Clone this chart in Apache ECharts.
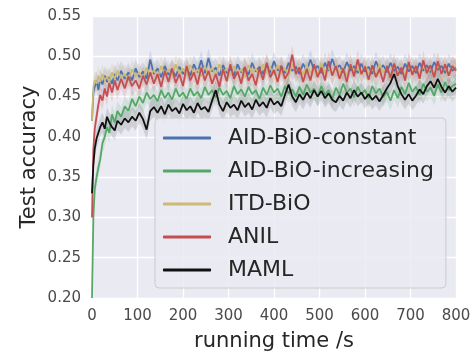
<!DOCTYPE html>
<html>
<head>
<meta charset="utf-8">
<script src="https://cdn.jsdelivr.net/npm/echarts@6/dist/echarts.min.js"></script>
<style>
html,body{margin:0;padding:0;background:#ffffff;}
#chart{width:474px;height:351px;}
</style>
</head>
<body>
<div id="chart"></div>
<script>
// running time (s)
const timeS = [0,3,6,10,14,18,23,28,33,38,44,50,56,64,72,80,88,96,104,112,120,128,136,144,152,160,168,176,184,192,200,208,216,224,232,240,248,256,264,272,280,288,296,304,312,320,328,336,344,352,360,368,376,384,392,400,408,416,424,432,440,448,456,464,472,480,488,496,504,512,520,528,536,544,552,560,568,576,584,592,600,608,616,624,632,640,648,656,664,672,680,688,696,704,712,720,728,736,744,752,760,768,776,784,792,800];

const aidConstant = [0.420,0.455,0.462,0.470,0.458,0.472,0.465,0.476,0.468,0.474,0.466,0.478,0.470,0.482,0.472,0.480,0.470,0.485,0.474,0.481,0.472,0.496,0.478,0.485,0.474,0.488,0.477,0.484,0.475,0.487,0.478,0.485,0.476,0.490,0.480,0.495,0.479,0.498,0.481,0.486,0.476,0.489,0.479,0.485,0.476,0.490,0.480,0.486,0.477,0.492,0.481,0.487,0.478,0.490,0.480,0.494,0.482,0.488,0.479,0.492,0.482,0.487,0.478,0.491,0.481,0.496,0.483,0.488,0.479,0.492,0.482,0.497,0.484,0.489,0.480,0.493,0.482,0.488,0.479,0.491,0.481,0.487,0.478,0.494,0.483,0.489,0.480,0.492,0.482,0.487,0.478,0.491,0.481,0.488,0.479,0.492,0.482,0.489,0.480,0.493,0.483,0.488,0.479,0.491,0.482,0.486];

const aidIncreasing = [0.200,0.300,0.335,0.350,0.362,0.372,0.392,0.400,0.412,0.405,0.428,0.418,0.432,0.425,0.438,0.432,0.447,0.438,0.450,0.442,0.455,0.447,0.452,0.444,0.458,0.448,0.455,0.446,0.460,0.450,0.455,0.447,0.460,0.451,0.456,0.448,0.462,0.452,0.458,0.449,0.461,0.452,0.457,0.448,0.463,0.453,0.459,0.450,0.462,0.453,0.458,0.447,0.461,0.452,0.464,0.455,0.460,0.450,0.463,0.454,0.459,0.450,0.462,0.452,0.465,0.455,0.460,0.450,0.463,0.452,0.458,0.447,0.461,0.452,0.466,0.455,0.460,0.449,0.462,0.453,0.458,0.448,0.463,0.454,0.460,0.449,0.456,0.445,0.458,0.448,0.462,0.453,0.467,0.456,0.462,0.452,0.466,0.456,0.461,0.451,0.465,0.455,0.468,0.458,0.463,0.466];

const itdBio = [0.420,0.462,0.470,0.466,0.476,0.468,0.478,0.470,0.475,0.468,0.480,0.472,0.482,0.474,0.478,0.470,0.484,0.475,0.480,0.472,0.486,0.476,0.483,0.474,0.488,0.477,0.484,0.475,0.490,0.479,0.485,0.476,0.489,0.478,0.484,0.475,0.488,0.477,0.486,0.476,0.490,0.479,0.485,0.476,0.488,0.478,0.484,0.475,0.489,0.479,0.485,0.476,0.490,0.480,0.486,0.477,0.489,0.479,0.485,0.476,0.490,0.480,0.486,0.477,0.489,0.479,0.485,0.476,0.491,0.480,0.486,0.477,0.489,0.479,0.485,0.476,0.490,0.480,0.486,0.477,0.489,0.479,0.485,0.476,0.490,0.480,0.486,0.477,0.489,0.479,0.485,0.476,0.490,0.480,0.486,0.477,0.489,0.479,0.485,0.476,0.490,0.480,0.486,0.477,0.489,0.482];

const anil = [0.300,0.385,0.410,0.425,0.440,0.452,0.445,0.460,0.450,0.467,0.455,0.470,0.458,0.472,0.460,0.475,0.463,0.470,0.460,0.476,0.465,0.480,0.466,0.478,0.462,0.482,0.468,0.485,0.467,0.478,0.463,0.488,0.470,0.480,0.465,0.486,0.470,0.482,0.466,0.478,0.462,0.484,0.469,0.490,0.472,0.481,0.466,0.487,0.470,0.478,0.464,0.485,0.471,0.492,0.474,0.483,0.468,0.488,0.472,0.480,0.502,0.478,0.486,0.468,0.484,0.470,0.490,0.474,0.486,0.470,0.494,0.476,0.488,0.472,0.485,0.468,0.490,0.475,0.496,0.478,0.487,0.471,0.489,0.474,0.484,0.468,0.488,0.473,0.491,0.476,0.486,0.470,0.493,0.477,0.488,0.472,0.495,0.479,0.489,0.474,0.494,0.478,0.490,0.476,0.488,0.482];

const maml = [0.330,0.365,0.385,0.398,0.405,0.412,0.418,0.410,0.425,0.418,0.412,0.408,0.420,0.415,0.423,0.418,0.425,0.420,0.430,0.422,0.409,0.432,0.437,0.430,0.438,0.428,0.440,0.432,0.436,0.429,0.441,0.433,0.438,0.430,0.442,0.434,0.437,0.431,0.445,0.458,0.440,0.432,0.443,0.436,0.440,0.433,0.445,0.437,0.442,0.434,0.446,0.438,0.443,0.436,0.448,0.440,0.444,0.438,0.452,0.465,0.450,0.443,0.453,0.446,0.455,0.448,0.458,0.450,0.457,0.448,0.454,0.446,0.443,0.451,0.445,0.455,0.448,0.458,0.450,0.455,0.447,0.453,0.446,0.451,0.444,0.452,0.460,0.467,0.478,0.463,0.453,0.446,0.453,0.445,0.451,0.459,0.453,0.463,0.469,0.461,0.472,0.462,0.455,0.463,0.456,0.461];

const seriesNames = ['AID-BiO-constant','AID-BiO-increasing','ITD-BiO','ANIL','MAML'];
const seriesValues = [aidConstant, aidIncreasing, itdBio, anil, maml];
const seriesColors = ['#4C72B0','#55A868','#CCB974','#C44E52','#111111'];
const bandHalf = [0.012, 0.012, 0.012, 0.012, 0.012];
const bandAlpha = [0.16, 0.16, 0.22, 0.16, 0.12];

const yTicks = [0.20,0.25,0.30,0.35,0.40,0.45,0.50,0.55];
const xTicks = [0,100,200,300,400,500,600,700,800];

const FONT = 'DejaVu Sans';
const series = [];
seriesValues.forEach((vals, i) => {
  series.push({
    type: 'custom', silent: true, z: 1,
    data: [[0, vals[0]]],
    encode: { x: 0, y: 1 },
    renderItem: (params, api) => {
      const up = vals.map((v, k) => api.coord([timeS[k], v + bandHalf[i]]));
      const lo = vals.map((v, k) => api.coord([timeS[k], Math.max(0.2, v - bandHalf[i])])).reverse();
      return {
        type: 'polygon',
        shape: { points: up.concat(lo) },
        style: { fill: seriesColors[i], opacity: bandAlpha[i] }
      };
    }
  });
});
seriesValues.forEach((vals, i) => {
  series.push({
    name: seriesNames[i], type: 'line', symbol: 'none',
    data: vals.map((v, k) => [timeS[k], v]),
    lineStyle: { color: seriesColors[i], width: 1.8 },
    itemStyle: { color: seriesColors[i] },
    z: 3 + i
  });
});

const chart = echarts.init(document.getElementById('chart'), null, { renderer: 'canvas' });
chart.setOption({
  animation: false,
  backgroundColor: '#ffffff',
  textStyle: { fontFamily: FONT },
  grid: { left: 92, right: 18, top: 16, bottom: 53, show: true, backgroundColor: '#EAEAF2', borderWidth: 0,
    containLabel: false, outerBoundsMode: 'none' },
  xAxis: {
    type: 'value', min: 0, max: 800, interval: 100,
    name: 'running time /s', nameLocation: 'middle', nameGap: 33,
    nameTextStyle: { fontFamily: FONT, fontSize: 21, color: '#262626' },
    axisLine: { show: false }, axisTick: { show: false },
    axisLabel: { fontFamily: FONT, fontSize: 15, color: '#4a4a4a', margin: 11,
      formatter: v => xTicks.includes(v) ? String(v) : '' },
    splitLine: { show: true, lineStyle: { color: '#ffffff', width: 1.3 } }
  },
  yAxis: {
    type: 'value', min: 0.20, max: 0.55, interval: 0.05,
    name: 'Test accuracy', nameLocation: 'middle', nameGap: 52, nameRotate: 90, nameMoveOverlap: false,
    nameTextStyle: { fontFamily: FONT, fontSize: 21, color: '#262626' },
    axisLine: { show: false }, axisTick: { show: false },
    axisLabel: { fontFamily: FONT, fontSize: 15, color: '#4a4a4a', margin: 11,
      formatter: v => { const t = yTicks.find(y => Math.abs(y - v) < 1e-6); return t === undefined ? '' : t.toFixed(2); } },
    splitLine: { show: true, lineStyle: { color: '#ffffff', width: 1.3 } }
  },
  legend: {
    data: seriesNames.map((n, i) => ({ name: n, itemStyle: { color: seriesColors[i] } })),
    orient: 'vertical', left: 155, top: 118,
    padding: [8, 12, 6, 8], itemGap: 9,
    itemWidth: 48, itemHeight: 3, icon: 'roundRect',
    backgroundColor: 'rgba(234,234,242,0.85)', borderColor: '#cccccc', borderWidth: 1, borderRadius: 4,
    textStyle: { fontFamily: FONT, fontSize: 22, color: '#262626', lineHeight: 24, padding: [0, 0, 0, 12] }
  },
  series: series
});
</script>
</body>
</html>
